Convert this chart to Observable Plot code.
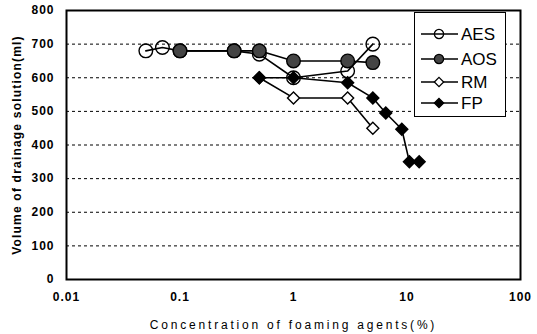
<!DOCTYPE html>
<html>
<head>
<meta charset="utf-8">
<script src="https://cdn.jsdelivr.net/npm/d3@7"></script>
<script src="https://cdn.jsdelivr.net/npm/@observablehq/plot@0.6"></script>
<style>
  body { margin: 0; background: #fff; }
  #wrap { position: relative; width: 537px; height: 334px; font-family: "Liberation Sans", Arial, sans-serif; }
  #wrap svg text { font-family: "Liberation Sans", Arial, sans-serif; }
  g[aria-label="x-axis tick label"] text, g[aria-label="y-axis tick label"] text { letter-spacing: 1px; font-weight: bold; font-size: 12px; }
  g[aria-label="x-axis label"] text { letter-spacing: 2.8px; font-size: 12px; }
  g[aria-label="y-axis label"] text { font-weight: bold; font-size: 12px; letter-spacing: 1.2px; }
  #legend { position: absolute; left: 414px; top: 12px; width: 92px; height: 105px; box-sizing: border-box; border: 1.5px solid #000; background: #fff; }
</style>
</head>
<body>
<div id="wrap"></div>
<script>
// ---- data ----
const seriesNames = ["AES", "AOS", "RM", "FP"];
const aesX = [0.05, 0.07, 0.1, 0.3, 0.5, 1, 3, 5];
const aesY = [680, 690, 680, 680, 670, 600, 620, 700];
const aosX = [0.1, 0.3, 0.5, 1, 3, 5];
const aosY = [680, 680, 680, 650, 650, 645];
const rmX = [0.5, 1, 3, 5];
const rmY = [600, 540, 540, 450];
const fpX = [0.5, 1, 3, 5, 6.5, 9, 10.5, 12.8];
const fpY = [600, 600, 585, 540, 495, 447, 350, 350];
const xTicks = [0.01, 0.1, 1, 10, 100];
const yTicks = [0, 100, 200, 300, 400, 500, 600, 700, 800];
const gridValues = [100, 200, 300, 400, 500, 600, 700];
const xLabel = "Concentration of foaming agents(%)";
const yLabel = "Volume of drainage solution(ml)";

const toRows = (xs, ys) => xs.map((x, i) => ({x, y: ys[i]}));
const aes = toRows(aesX, aesY);
const aos = toRows(aosX, aosY);
const rm = toRows(rmX, rmY);
const fp = toRows(fpX, fpY);

const styles = {
  AES: {symbol: "circle", fill: "none", r: 6.8},
  AOS: {symbol: "circle", fill: "#444", r: 6.8},
  RM: {symbol: "diamond2", fill: "#fff", r: 5.4},
  FP: {symbol: "diamond2", fill: "#000", r: 5.4}
};
const dataBy = {AES: aes, AOS: aos, RM: rm, FP: fp};
const drawOrder = ["AES", "RM", "AOS", "FP"];

const marks = [
  Plot.ruleY(gridValues, {stroke: "#000", strokeWidth: 1, strokeDasharray: "3,3"})
];
for (const name of drawOrder) {
  const s = styles[name];
  marks.push(Plot.line(dataBy[name], {x: "x", y: "y", stroke: "#000", strokeWidth: 1.6}));
  marks.push(Plot.dot(dataBy[name], {x: "x", y: "y", symbol: () => s.symbol, r: s.r, fill: s.fill, stroke: "#000", strokeWidth: 1.4}));
}
marks.push(Plot.frame({stroke: "#000", strokeWidth: 2}));

const chart = Plot.plot({
  width: 537,
  height: 334,
  marginLeft: 66,
  marginRight: 17,
  marginTop: 10,
  marginBottom: 55,
  style: {fontSize: "12px", color: "#000", background: "#fff"},
  symbol: {type: "identity"},
  x: {type: "log", domain: [0.01, 100], ticks: xTicks, tickFormat: d => String(d), tickSize: 0, tickPadding: 13, label: xLabel, labelAnchor: "center", labelOffset: 49, labelArrow: "none"},
  y: {domain: [0, 800], ticks: yTicks, tickSize: 0, tickPadding: 12, label: yLabel, labelAnchor: "center", labelOffset: 54, labelArrow: "none"},
  marks
});
const wrap = document.getElementById("wrap");
wrap.appendChild(chart);

// ---- legend ----
const legend = d3.select(wrap).append("div").attr("id", "legend");
const lsvg = legend.append("svg").attr("width", 90).attr("height", 102).style("position", "absolute").style("left", 0).style("top", 0);
const rowY = [21, 46, 69, 90];
seriesNames.forEach((name, i) => {
  const s = styles[name];
  const g = lsvg.append("g").attr("transform", `translate(0,${rowY[i]})`);
  g.append("line").attr("x1", 6).attr("x2", 43).attr("y1", 0).attr("y2", 0).attr("stroke", "#000").attr("stroke-width", 1.6);
  const sym = s.symbol === "circle" ? d3.symbolCircle : d3.symbolDiamond2;
  const size = Math.PI * Math.pow(s.symbol === "circle" ? 4.6 : 4.2, 2);
  g.append("path").attr("d", d3.symbol(sym, size)()).attr("transform", "translate(24,0)")
    .attr("fill", s.fill).attr("stroke", "#000").attr("stroke-width", 1.3);
  g.append("text").attr("x", 46).attr("y", 0).attr("dy", "0.36em").attr("font-size", 17)
    .attr("font-family", "Liberation Sans, Arial, sans-serif").text(name);
});
</script>
</body>
</html>
